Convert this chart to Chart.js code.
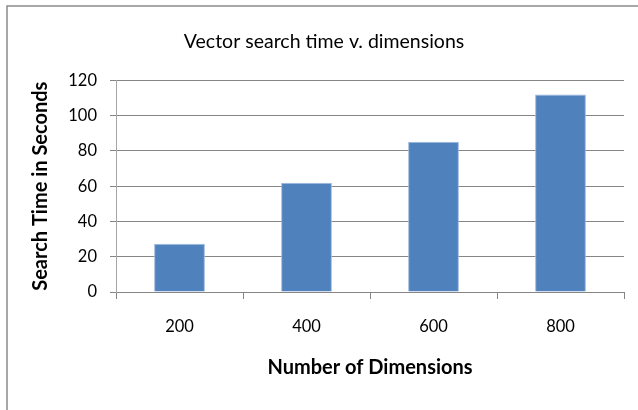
<!DOCTYPE html>
<html>
<head>
<meta charset="utf-8">
<script src="https://cdn.jsdelivr.net/npm/chart.js@4"></script>
<style>
  html, body { margin: 0; padding: 0; background: #fff; }
  #wrap { width: 638px; height: 410px; }
</style>
</head>
<body>
<div id="wrap"><canvas id="chart"></canvas></div>
<script>
const dimensions = ["200", "400", "600", "800"];
const searchTimes = [27.4, 62, 85.2, 112];
const yTicks = [0, 20, 40, 60, 80, 100, 120];

const FONT = "Lato, 'Open Sans', sans-serif";

// grey frame round the chart, like the Excel chart border
const frame = {
  id: "frame",
  beforeDraw(chart) {
    const c = chart.ctx;
    c.save();
    c.strokeStyle = "#8a8a8a";
    c.lineWidth = 1.5;
    c.strokeRect(7, 6, 700, 500);
    c.restore();
  },
};

const ctx = document.getElementById("chart").getContext("2d");
new Chart(ctx, {
  type: "bar",
  data: {
    labels: dimensions,
    datasets: [{
      label: "Search Time",
      data: searchTimes,
      backgroundColor: "#4F81BD",
      borderColor: "#9DB9DF",
      borderWidth: 1,
      categoryPercentage: 1,
      barPercentage: 0.4,
    }],
  },
  options: {
    responsive: true,
    maintainAspectRatio: false,
    animation: false,
    layout: { padding: { left: 24, right: 14, top: 0, bottom: 0 } },
    plugins: {
      legend: { display: false },
      tooltip: { enabled: false },
      title: {
        display: true,
        text: "Vector search time v. dimensions",
        color: "#000",
        font: { family: FONT, size: 19.5, weight: "normal" },
        padding: { top: 30, bottom: 27 },
      },
    },
    scales: {
      x: {
        grid: {
          display: true,
          offset: true,
          drawOnChartArea: false,
          drawTicks: true,
          tickLength: 7,
          color: "#868686",
        },
        border: { color: "#868686", width: 1 },
        ticks: {
          color: "#000",
          font: { family: FONT, size: 16.5 },
          padding: 18,
        },
        title: {
          display: true,
          text: "Number of Dimensions",
          color: "#000",
          font: { family: FONT, size: 20, weight: "bold" },
          padding: { top: 0, bottom: 30 },
        },
        afterFit: (s) => { s.height = 118; },
      },
      y: {
        min: 0,
        max: 120,
        afterBuildTicks: (s) => { s.ticks = yTicks.map((v) => ({ value: v })); },
        grid: {
          color: "#868686",
          tickLength: 6,
        },
        border: { color: "#a6a6a6", width: 1 },
        ticks: {
          color: "#000",
          font: { family: FONT, size: 16.5 },
          padding: 13,
        },
        title: {
          display: true,
          text: "Search Time in Seconds",
          color: "#000",
          font: { family: FONT, size: 20, weight: "bold" },
          padding: { top: 5, bottom: 0 },
        },
        afterFit: (s) => { s.width = 92; },
      },
    },
  },
  plugins: [frame],
});
</script>
</body>
</html>
